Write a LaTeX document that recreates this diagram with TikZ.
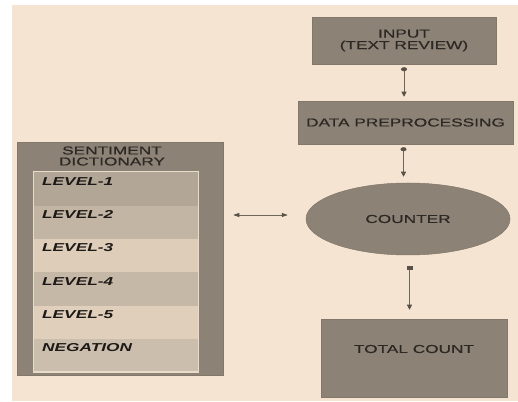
\documentclass[tikz,border=0pt]{standalone}
\usepackage{fontspec}
\setmainfont{Liberation Sans}[FakeStretch=1.5, UprightFeatures={FakeBold=0.6}]
\usetikzlibrary{shapes.geometric,arrows.meta,calc}

\definecolor{paper}{HTML}{F4E4D1}
\definecolor{boxfill}{HTML}{8C8276}
\definecolor{boxedge}{HTML}{827769}
\definecolor{ink}{HTML}{2C2824}
\definecolor{darkink}{HTML}{1C1916}
\definecolor{wire}{HTML}{6F665C}
\definecolor{tipfill}{HTML}{5A5148}
\definecolor{rowA}{HTML}{B2A797}
\definecolor{rowB}{HTML}{C2B5A3}
\definecolor{rowC}{HTML}{DDCDB9}
\definecolor{rowD}{HTML}{C6B8A6}
\definecolor{rowE}{HTML}{DFCFBB}
\definecolor{rowF}{HTML}{CBBEAC}
\definecolor{paneledge}{HTML}{E8DCCB}

\tikzset{
  stagebox/.style={draw=boxedge, line width=0.5pt, fill=boxfill, text=ink,
    font=\fontsize{11.5}{11.5}\selectfont, align=center, inner sep=0pt},
  levelrow/.style={minimum width=164pt, minimum height=33.33pt, inner sep=0pt,
    anchor=north west},
  leveltext/.style={anchor=base west, text=darkink, inner sep=0pt,
    font=\fontsize{11.5}{11.5}\selectfont\bfseries\itshape},
  flow/.style={draw=wire, line width=0.7pt},
}

\begin{document}
\begin{tikzpicture}[x=1pt,y=1pt]
  % page and paper
  \fill[white] (0,0) rectangle (518,401);
  \fill[paper] (12,0) rectangle (518,396);
  \useasboundingbox (0,0) rectangle (518,401);

  % processing chain
  \node[stagebox, minimum width=184pt, minimum height=47pt] (input) at (404,360.5)
    {INPUT\\(TEXT REVIEW)};
  \node[stagebox, minimum width=215pt, minimum height=43pt] (prep) at (405.5,278.5)
    {DATA PREPROCESSING};
  \node[stagebox, ellipse, minimum width=204pt, minimum height=72pt] (counter) at (408,182)
    {COUNTER};
  \node[stagebox, minimum width=186pt, minimum height=78pt,
    label={[text=ink, font=\fontsize{11.5}{11.5}\selectfont, yshift=9pt]center:TOTAL COUNT}]
    (total) at (414,43) {};

  % sentiment dictionary
  \node[stagebox, minimum width=206pt, minimum height=233pt] (dict) at (120,142.5) {};
  \node[text=ink, font=\fontsize{11.5}{11}\selectfont, align=center, inner sep=0pt]
    (dicttitle) at (112,245) {SENTIMENT\\DICTIONARY};
  \node[fill=paneledge, minimum width=166pt, minimum height=202pt, inner sep=0pt]
    (panel) at (116,129) {};

  \node[levelrow, fill=rowA] (row1) at (34,229) {};
  \node[levelrow, fill=rowB] (row2) at (34,195.67) {};
  \node[levelrow, fill=rowC] (row3) at (34,162.33) {};
  \node[levelrow, fill=rowD] (row4) at (34,129) {};
  \node[levelrow, fill=rowE] (row5) at (34,95.67) {};
  \node[levelrow, fill=rowF, minimum height=32.5pt] (row6) at (34,62.33) {};

  \node[leveltext] (l1) at ([xshift=8pt, yshift=-13.3pt]row1.north west) {LEVEL-1};
  \node[leveltext] (l2) at ([xshift=8pt, yshift=-13.3pt]row2.north west) {LEVEL-2};
  \node[leveltext] (l3) at ([xshift=8pt, yshift=-13.3pt]row3.north west) {LEVEL-3};
  \node[leveltext] (l4) at ([xshift=8pt, yshift=-13.3pt]row4.north west) {LEVEL-4};
  \node[leveltext] (l5) at ([xshift=8pt, yshift=-13.3pt]row5.north west) {LEVEL-5};
  \node[leveltext] (l6) at ([xshift=8pt, yshift=-13.3pt]row6.north west) {NEGATION};

  % connectors
  \draw[flow, {Circle[length=4pt, width=6pt, fill=tipfill, color=tipfill]}-{Triangle[length=5pt, width=5pt, fill=tipfill, color=tipfill]},
        shorten <=3pt, shorten >=4pt]
    (input.south) -- (input.south |- prep.north);
  \draw[flow, {Circle[length=4pt, width=6pt, fill=tipfill, color=tipfill]}-{Triangle[length=5pt, width=5pt, fill=tipfill, color=tipfill]},
        shorten <=3pt, shorten >=6pt]
    ([xshift=-2pt]prep.south) -- ([xshift=-2pt]prep.south |- counter.north);
  \draw[flow, {Square[length=3pt, width=6pt, fill=tipfill, color=tipfill]}-{Triangle[length=5pt, width=5pt, fill=tipfill, color=tipfill]},
        shorten <=11pt, shorten >=9pt]
    ([xshift=1.5pt]counter.south) -- ([xshift=1.5pt]counter.south |- total.north);
  \draw[flow, {Triangle[length=6pt, width=4pt, fill=tipfill, color=tipfill]}-{Triangle[length=6pt, width=4pt, fill=tipfill, color=tipfill]},
        shorten <=10pt, shorten >=18pt]
    ($(dict.east |- counter.west)+(0,4pt)$) -- ($(counter.west)+(0,4pt)$);
\end{tikzpicture}
\end{document}
